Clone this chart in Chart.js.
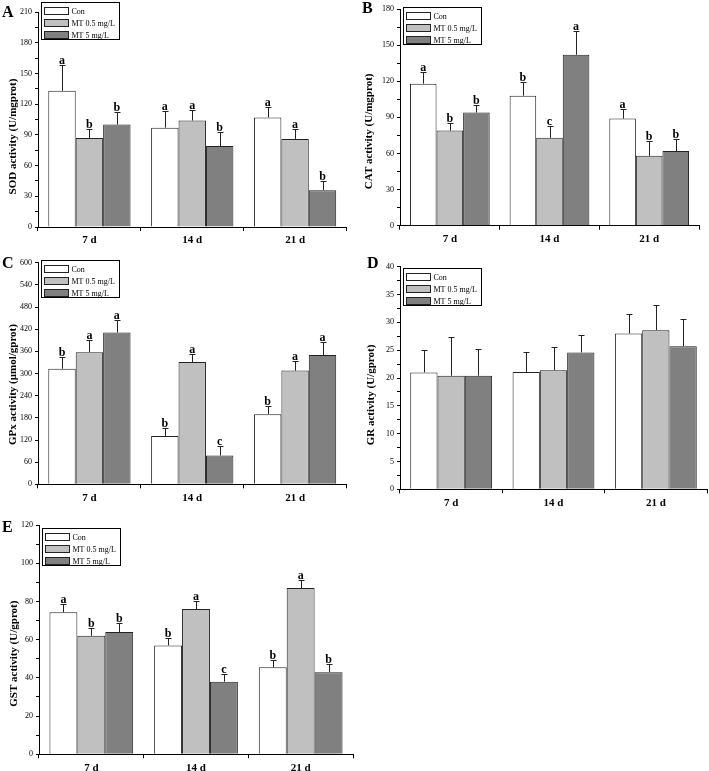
<!DOCTYPE html>
<html>
<head>
<meta charset="utf-8">
<script src="https://cdn.jsdelivr.net/npm/chart.js@4.4.0/dist/chart.umd.min.js"></script>
<style>
  body { margin: 0; background: #fff; }
  #wrap { position: relative; width: 709px; height: 771px; overflow: hidden; background: #fff; }
  canvas { position: absolute; }
  .tag { position: absolute; font: bold 16px "Liberation Serif", serif; line-height: 16px; color: #000; }
</style>
</head>
<body>
<div id="wrap">
  <canvas id="chartA" width="355" height="255" style="left:0;top:0"></canvas>
  <canvas id="chartB" width="354" height="255" style="left:355px;top:0"></canvas>
  <canvas id="chartC" width="355" height="258" style="left:0;top:255px"></canvas>
  <canvas id="chartD" width="354" height="258" style="left:355px;top:255px"></canvas>
  <canvas id="chartE" width="355" height="261" style="left:0;top:510px"></canvas>
  <div class="tag" style="left:2px;top:4px">A</div>
  <div class="tag" style="left:362px;top:0">B</div>
  <div class="tag" style="left:2px;top:255px">C</div>
  <div class="tag" style="left:367px;top:255px">D</div>
  <div class="tag" style="left:2px;top:519px">E</div>
</div>
<script>
// data, indexed [group][day]
const days = ["7 d", "14 d", "21 d"];
const groups = ["Con", "MT 0.5 mg/L", "MT 5 mg/L"];

const sodMeans = [[133, 97, 107], [87, 104, 86], [100, 79, 36]];
const sodErrors = [[25, 16, 10], [9, 10, 10], [12, 14, 9]];
const sodLetters = [["a", "a", "a"], ["b", "a", "a"], ["b", "b", "b"]];

const catMeans = [[118, 108, 89], [79, 73, 58], [94, 142, 62]];
const catErrors = [[10, 11, 8], [6, 10, 12], [6, 20, 10]];
const catLetters = [["a", "b", "a"], ["b", "c", "b"], ["b", "a", "b"]];

const gpxMeans = [[313, 131, 190], [358, 331, 308], [411, 78, 350]];
const gpxErrors = [[32, 22, 21], [32, 21, 27], [33, 25, 36]];
const gpxLetters = [["b", "b", "b"], ["a", "a", "a"], ["a", "c", "a"]];

const grMeans = [[21.0, 21.1, 28.0], [20.4, 21.4, 28.6], [20.4, 24.6, 25.7]];
const grErrors = [[4.0, 3.6, 3.5], [6.9, 4.2, 4.6], [4.8, 3.1, 4.9]];

const gstMeans = [[74.3, 57, 45.5], [62, 76, 87], [64, 38, 43]];
const gstErrors = [[4.6, 3.7, 4.1], [4.3, 4.2, 4.2], [4.8, 4.2, 4.5]];
const gstLetters = [["a", "b", "b"], ["b", "a", "a"], ["b", "c", "b"]];

const yTitles = ["SOD activity (U/mgprot)", "CAT activity (U/mgprot)", "GPx activity (\u03bcmol/gprot)",
  "GR activity (U/gprot)", "GST activity (U/gprot)"];
const yMax = [210, 180, 600, 40, 120];
const yMajor = [30, 30, 60, 5, 20];

const fills = ["#ffffff", "#c0c0c0", "#808080"];
const serif = '"Liberation Serif", "Times New Roman", serif';

// draws error bars, significance letters, the boxed legend and the y title
const panelDeco = {
  id: "panelDeco",
  afterDatasetsDraw(chart) {
    const ctx = chart.ctx;
    const y = chart.scales.y;
    ctx.save();
    ctx.strokeStyle = "#222";
    ctx.lineWidth = 1;
    ctx.fillStyle = "#000";
    ctx.font = "bold 12px " + serif;
    ctx.textAlign = "center";
    ctx.textBaseline = "alphabetic";
    chart.data.datasets.forEach((ds, i) => {
      chart.getDatasetMeta(i).data.forEach((bar, j) => {
        const x = Math.round(bar.x) + 0.5;
        const top = Math.round(y.getPixelForValue(ds.data[j] + ds.errors[j])) + 0.5;
        ctx.beginPath();
        ctx.moveTo(x, bar.y);
        ctx.lineTo(x, top);
        ctx.moveTo(x - 3, top);
        ctx.lineTo(x + 3, top);
        ctx.stroke();
        if (ds.letters) ctx.fillText(ds.letters[j], bar.x, top - 2);
      });
    });
    ctx.restore();
  },
  afterDraw(chart, args, opts) {
    const ctx = chart.ctx;
    const area = chart.chartArea;
    ctx.save();
    // legend
    const lx = Math.round(area.left + 3) + 0.5;
    const ly = opts.legendTop + 0.5;
    ctx.fillStyle = "#fff";
    ctx.fillRect(lx, ly, 78, 37);
    ctx.strokeStyle = "#000";
    ctx.lineWidth = 1;
    ctx.strokeRect(lx, ly, 78, 37);
    ctx.font = "8px " + serif;
    ctx.textAlign = "left";
    ctx.textBaseline = "middle";
    chart.data.datasets.forEach((ds, i) => {
      const cy = ly + 8.5 + i * 12;
      ctx.fillStyle = ds.backgroundColor;
      ctx.fillRect(lx + 3, cy - 3.5, 24, 7);
      ctx.strokeStyle = "#222";
      ctx.strokeRect(lx + 3, cy - 3.5, 24, 7);
      ctx.fillStyle = "#000";
      ctx.fillText(ds.label, lx + 30, cy + 0.5);
    });
    // y title
    ctx.translate(opts.titleX, (area.top + area.bottom) / 2 + opts.titleShift);
    ctx.rotate(-Math.PI / 2);
    ctx.font = "bold 11px " + serif;
    ctx.textAlign = "center";
    ctx.fillText(opts.title, 0, 0);
    ctx.restore();
  }
};

function makeDatasets(means, errors, letters) {
  return groups.map((g, i) => ({
    label: g,
    data: means[i],
    errors: errors[i],
    letters: letters ? letters[i] : null,
    backgroundColor: fills[i],
    borderColor: "#222",
    borderWidth: 1,
    categoryPercentage: 0.8,
    barPercentage: 1.0
  }));
}

function makeChart(id, k, means, errors, letters, box) {
  const major = yMajor[k];
  new Chart(document.getElementById(id), {
    type: "bar",
    data: { labels: days, datasets: makeDatasets(means, errors, letters) },
    plugins: [panelDeco],
    options: {
      responsive: false,
      animation: false,
      devicePixelRatio: 1,
      layout: { padding: { top: box.top, right: box.right, left: 0, bottom: 0 } },
      plugins: {
        legend: { display: false },
        tooltip: { enabled: false },
        panelDeco: { legendTop: box.legendTop, title: yTitles[k], titleX: box.titleX, titleShift: box.titleShift }
      },
      scales: {
        x: {
          afterFit: (s) => { s.height = box.xHeight; },
          grid: { offset: true, drawOnChartArea: false, tickLength: 4, color: "#000" },
          border: { color: "#000", width: 1 },
          ticks: { color: "#000", padding: 3, font: { family: serif, size: 11, weight: "bold" } }
        },
        y: {
          min: 0,
          max: yMax[k],
          afterFit: (s) => { s.width = box.yWidth; },
          grid: { drawOnChartArea: false, tickLength: 3, color: "#000" },
          border: { color: "#000", width: 1 },
          ticks: {
            stepSize: major / 2,
            color: "#000",
            padding: 3,
            font: { family: serif, size: 8 },
            callback: (v) => (Math.abs(v / major - Math.round(v / major)) < 1e-6 ? v : "")
          }
        }
      }
    }
  });
}

makeChart("chartA", 0, sodMeans, sodErrors, sodLetters,
  { top: 12, right: 8.5, yWidth: 38, xHeight: 28, legendTop: 2, titleX: 13, titleShift: 17 });
makeChart("chartB", 1, catMeans, catErrors, catLetters,
  { top: 9, right: 10, yWidth: 45, xHeight: 29.3, legendTop: 7, titleX: 14, titleShift: 14 });
makeChart("chartC", 2, gpxMeans, gpxErrors, gpxLetters,
  { top: 5.7, right: 8.5, yWidth: 38, xHeight: 28.7, legendTop: 5, titleX: 13.5, titleShift: 11 });
makeChart("chartD", 3, grMeans, grErrors, null,
  { top: 11.7, right: 2, yWidth: 45, xHeight: 23.7, legendTop: 13, titleX: 16, titleShift: 17 });
makeChart("chartE", 4, gstMeans, gstErrors, gstLetters,
  { top: 15, right: 2, yWidth: 39, xHeight: 16.7, legendTop: 18, titleX: 14, titleShift: 14 });
</script>
</body>
</html>
